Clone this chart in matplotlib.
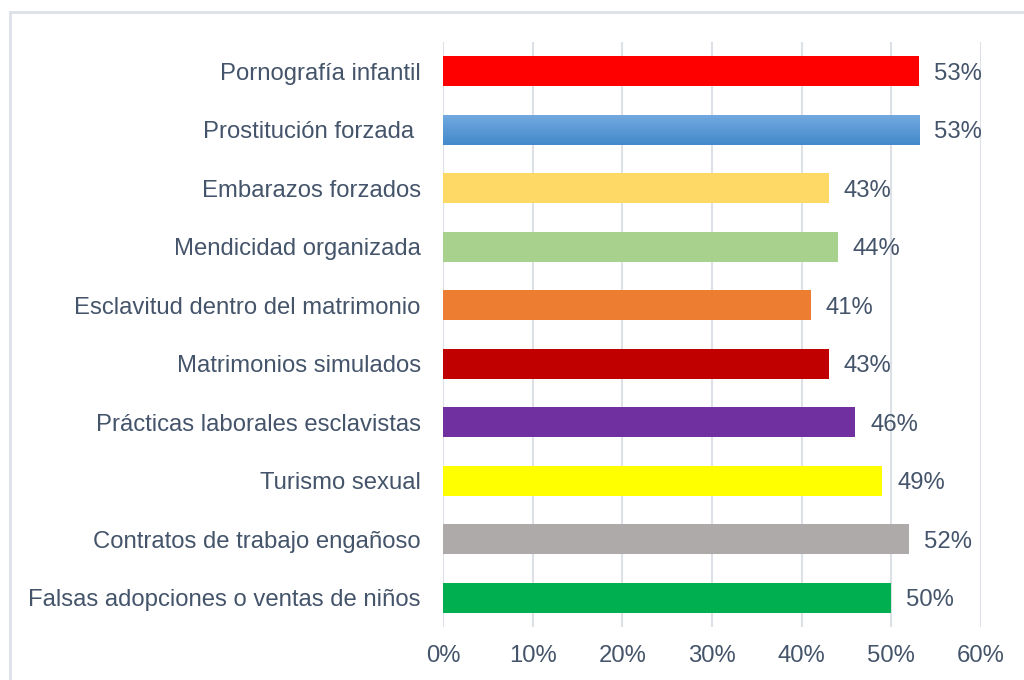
import matplotlib
matplotlib.use("Agg")
import matplotlib.pyplot as plt
import numpy as np
from matplotlib.lines import Line2D
from matplotlib.colors import LinearSegmentedColormap

categories = [
    "Pornografía infantil",
    "Prostitución forzada ",
    "Embarazos forzados",
    "Mendicidad organizada",
    "Esclavitud dentro del matrimonio",
    "Matrimonios simulados",
    "Prácticas laborales esclavistas",
    "Turismo sexual",
    "Contratos de trabajo engañoso",
    "Falsas adopciones o ventas de niños",
]
values = [0.531, 0.531, 0.43, 0.44, 0.41, 0.43, 0.46, 0.49, 0.52, 0.50]
colors = ["#FF0000", "#5B9BD5", "#FFD966", "#A9D18E", "#ED7D31",
          "#C00000", "#7030A0", "#FFFF00", "#AEAAAA", "#00B050"]
xticks = [0, 0.1, 0.2, 0.3, 0.4, 0.5, 0.6]

plt.rcParams['font.family'] = ['Liberation Sans', 'DejaVu Sans']
text_color = "#44546A"
grid_color = "#DCE1E8"
fs = 17.2

fig = plt.figure(figsize=(10.24, 6.8), dpi=100)
ax = fig.add_axes([443/1024, 1-627/680, (981-443)/1024, (627-42)/680])

ypos = np.arange(len(categories))
bars = ax.barh(ypos, values, height=0.51, color=colors, zorder=3)

# gradient on the second bar
b = bars[1]
b.set_facecolor("none")
grad = np.linspace(0, 1, 100).reshape(-1, 1)
cmap = LinearSegmentedColormap.from_list("g", ["#72A9DF", "#4389CB"])
x0, y0 = b.get_x(), b.get_y()
w, h = b.get_width(), b.get_height()
im = ax.imshow(grad, cmap=cmap, aspect="auto", extent=[x0, x0 + w, y0 + h, y0],
               zorder=3, interpolation="bicubic")
im.set_clip_path(b)

ax.set_xlim(0, 0.6)
ax.set_ylim(len(categories) - 0.5, -0.5)
ax.set_xticks(xticks)
ax.set_xticklabels([f"{int(round(t*100))}%" for t in xticks])
ax.set_yticks(ypos)
ax.set_yticklabels(categories)
ax.tick_params(axis="both", length=0, labelsize=fs, colors=text_color)
ax.tick_params(axis="y", pad=16)
ax.tick_params(axis="x", pad=13)
ax.grid(axis="x", color=grid_color, linewidth=1.5, zorder=0)
for s in ax.spines.values():
    s.set_visible(False)

for yv, v in zip(ypos, values):
    ax.annotate(f"{int(round(v*100))}%", (v, yv), xytext=(15, 0),
                textcoords="offset pixels",
                va="center_baseline", ha="left", fontsize=fs, color=text_color)

# outer border (left and top edges visible)
fig.add_artist(Line2D([10/1024, 10/1024], [0, 1-12/680], transform=fig.transFigure,
                      color=grid_color, linewidth=2))
fig.add_artist(Line2D([10/1024, 1], [1-12/680, 1-12/680], transform=fig.transFigure,
                      color=grid_color, linewidth=2))

fig.savefig("out.png", dpi=100)
